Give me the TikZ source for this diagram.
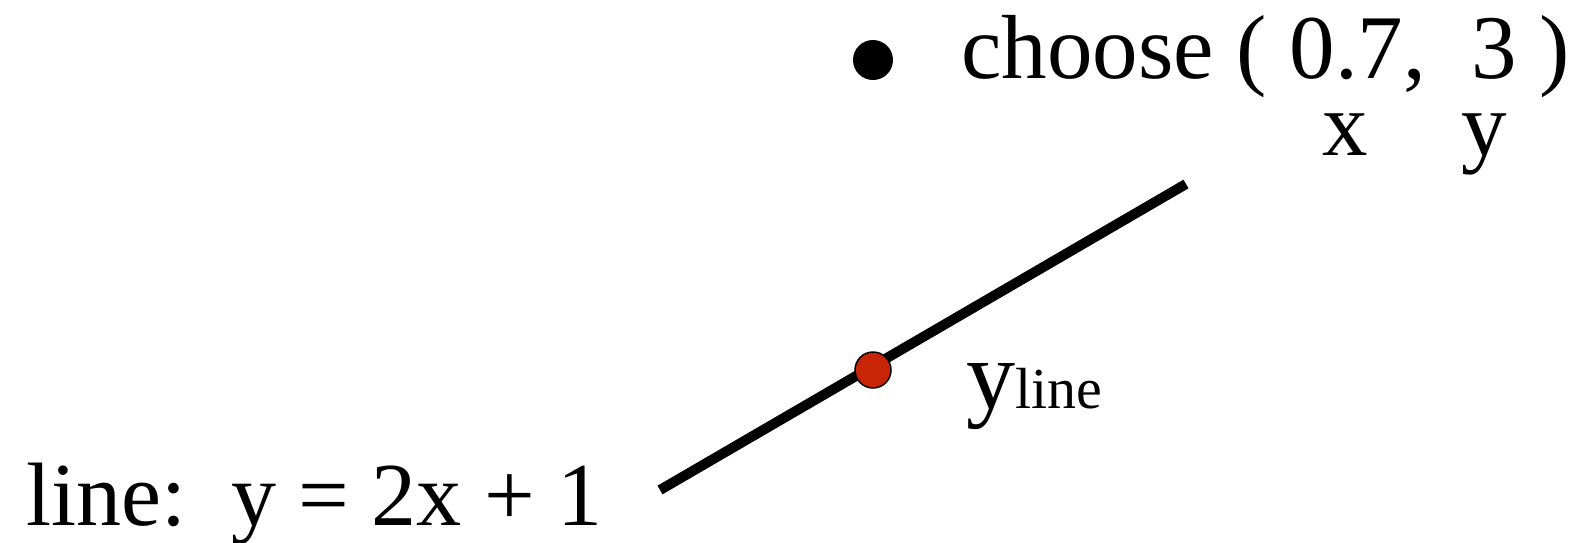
\documentclass[tikz,border=0pt]{standalone}
\usepackage{fontspec}
\setmainfont{Liberation Serif}
\tikzset{
  big/.style={font=\fontsize{91}{100}\selectfont, inner sep=0pt, anchor=base west},
  sub/.style={font=\fontsize{58}{60}\selectfont, inner sep=0pt, anchor=base west},
}
\begin{document}
\begin{tikzpicture}[x=1pt,y=-1pt]
\useasboundingbox (0,0) rectangle (1577,542);

\fill (873,60) circle (20);
\node[big] (choose) at (961,78) {choose ( 0.7,\ \ 3 )};
\node[big] (xlab) at (1322,155) {x};
\node[big] (ylab) at (1461,155) {y};

\coordinate (lineA) at (660,490);
\coordinate (lineB) at (1186,184);
\draw[line width=10] (lineA) -- (lineB);

\filldraw[fill={rgb,255:red,200;green,37;blue,6}, line width=1.5] (873,370) circle (18) coordinate (pt);
\node[big, font=\fontsize{98}{100}\selectfont] (yline) at (966,408) {y};
\node[sub] (ysub) at (yline.base east) {line};

\node[big, font=\fontsize{90}{100}\selectfont] (eq) at (26,525) {line:\ \ y = 2x + 1};
\end{tikzpicture}
\end{document}
